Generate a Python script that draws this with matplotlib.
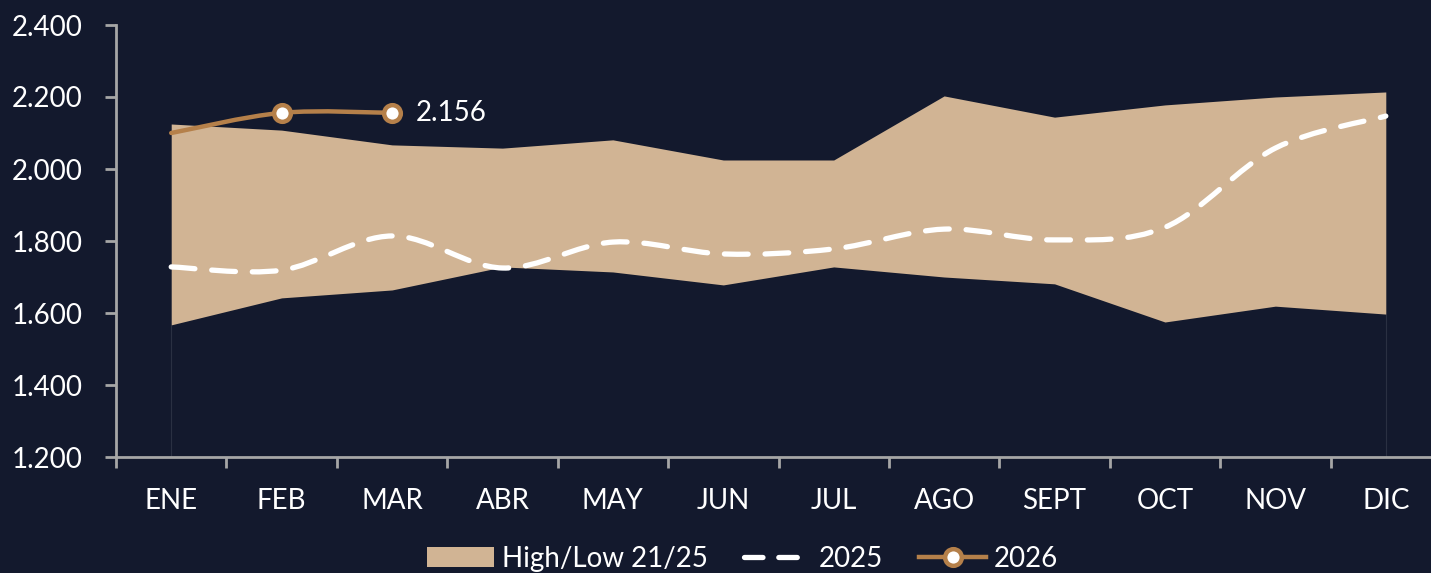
import matplotlib
matplotlib.use("Agg")
import matplotlib.pyplot as plt
from matplotlib.path import Path
from matplotlib.patches import PathPatch, Patch
from matplotlib.lines import Line2D
import numpy as np

months = ["ENE", "FEB", "MAR", "ABR", "MAY", "JUN", "JUL", "AGO", "SEPT", "OCT", "NOV", "DIC"]
high_2125 = [2.125, 2.108, 2.067, 2.058, 2.081, 2.025, 2.025, 2.203, 2.144, 2.178, 2.200, 2.214]
low_2125 = [1.567, 1.642, 1.664, 1.728, 1.714, 1.678, 1.728, 1.700, 1.681, 1.575, 1.619, 1.597]
y2025 = [1.728, 1.719, 1.814, 1.725, 1.797, 1.764, 1.778, 1.833, 1.803, 1.838, 2.058, 2.147]
y2026 = [2.100, 2.156, 2.156]
yticks = [1.2, 1.4, 1.6, 1.8, 2.0, 2.2, 2.4]

BG = "#13192D"
SAND = "#D1B494"
BROWN = "#B5804A"
AXC = "#A6A6A6"
FONT = ["Lato", "DejaVu Sans"]

plt.rcParams["font.family"] = FONT


def smooth_path(xs, ys):
    pts = np.column_stack([xs, ys]).astype(float)
    n = len(pts)
    verts = [pts[0]]
    codes = [Path.MOVETO]
    for i in range(n - 1):
        p0 = pts[i - 1] if i > 0 else pts[i]
        p1 = pts[i]
        p2 = pts[i + 1]
        p3 = pts[i + 2] if i + 2 < n else pts[i + 1]
        c1 = p1 + (p2 - p0) / 6.0
        c2 = p2 - (p3 - p1) / 6.0
        verts += [c1, c2, p2]
        codes += [Path.CURVE4] * 3
    return Path(verts, codes)


fig = plt.figure(figsize=(14.31, 5.73), dpi=100, facecolor=BG)
W, H = 1431, 573
ax = fig.add_axes([116 / W, 116 / H, 1325 / W, 432 / H])
ax.set_facecolor(BG)

x = np.arange(len(months))
ax.fill_between(x, low_2125, high_2125, color=SAND, linewidth=0, zorder=2)
ax.vlines([x[0], x[-1]], 1.2, [low_2125[0], low_2125[-1]], color="#2A3042", linewidth=0.8, zorder=1)

p25 = PathPatch(smooth_path(x, y2025), facecolor="none", edgecolor="white", linewidth=3.8,
                linestyle=(0, (4.5, 3.2)), capstyle="round", zorder=3)
ax.add_patch(p25)

x26 = x[:len(y2026)]
p26 = PathPatch(smooth_path(x26, y2026), facecolor="none", edgecolor=BROWN, linewidth=3.2,
                capstyle="round", zorder=4)
ax.add_patch(p26)
ax.plot(x26[1:], y2026[1:], linestyle="none", marker="o", markersize=12,
        markerfacecolor="white", markeredgecolor=BROWN, markeredgewidth=3.2, zorder=5)
ax.annotate(f"{y2026[-1]:.3f}", (x26[-1], y2026[-1]), xytext=(17, 0), textcoords="offset points",
            va="center", ha="left", color="white", fontsize=20)

ax.set_xlim(-0.5, 11.5)
ax.set_ylim(1.2, 2.4)
ax.set_yticks(yticks)
ax.set_yticklabels([f"{v:.3f}" for v in yticks], color="white", fontsize=20)
ax.set_xticks(x)
ax.set_xticklabels(months, color="white", fontsize=20)
ax.set_xticks(np.arange(-0.5, 12, 1), minor=True)
ax.tick_params(axis="x", which="major", length=0, pad=22)
ax.tick_params(axis="x", which="minor", length=8, width=2, color=AXC, direction="out")
ax.tick_params(axis="y", length=8, width=2, color=AXC, pad=16)
for s in ["top", "right"]:
    ax.spines[s].set_visible(False)
for s in ["left", "bottom"]:
    ax.spines[s].set_color(AXC)
    ax.spines[s].set_linewidth(2)

handles = [
    Patch(facecolor=SAND, edgecolor="none"),
    Line2D([], [], color="white", linewidth=3.8, linestyle=(0, (3.5, 3)), dash_capstyle="round"),
    Line2D([], [], color=BROWN, linewidth=3.2, marker="o", markersize=12,
           markerfacecolor="white", markeredgecolor=BROWN, markeredgewidth=3.2),
]
labels = ["High/Low 21/25", "2025", "2026"]
leg = fig.legend(handles, labels, loc="center", bbox_to_anchor=(0.519, 14 / H), ncol=3,
                 frameon=False, fontsize=20, handlelength=2.4, handleheight=0.75,
                 handletextpad=0.3, columnspacing=1.3, labelcolor="white")

fig.savefig("out.png", dpi=100, facecolor=BG)
